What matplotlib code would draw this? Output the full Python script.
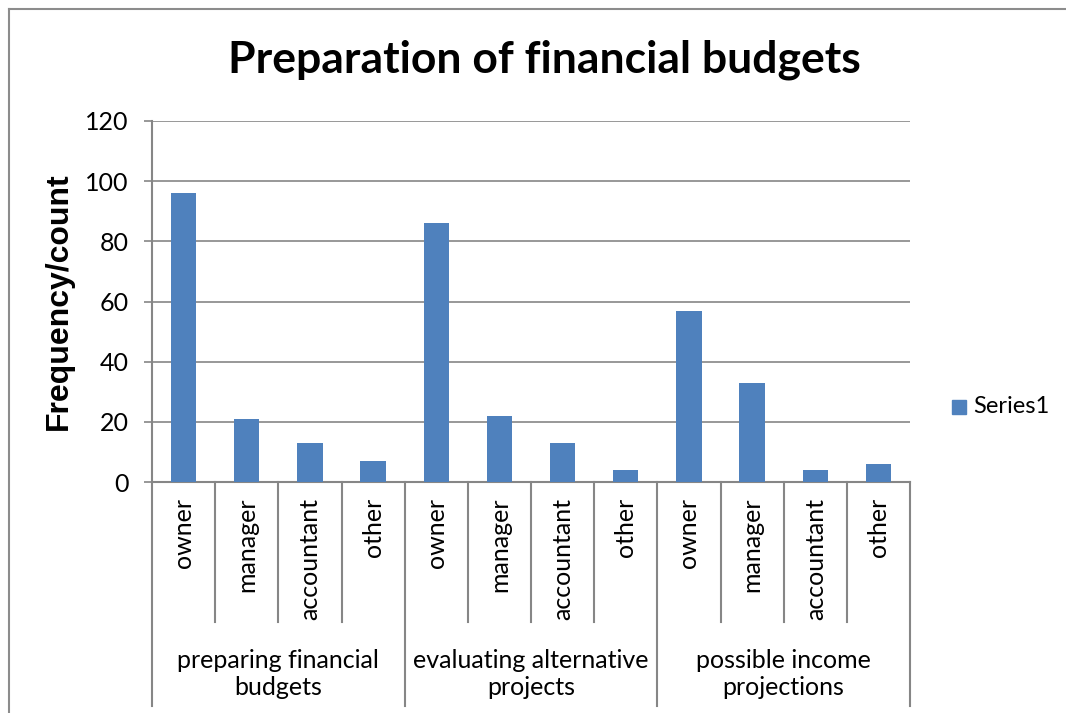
import matplotlib.pyplot as plt
from matplotlib.patches import Rectangle

# survey counts: who prepares each kind of budget
groups = ["preparing financial\nbudgets", "evaluating alternative\nprojects", "possible income\nprojections"]
roles = ["owner", "manager", "accountant", "other"]
series1 = [96, 21, 13, 7, 86, 22, 13, 4, 57, 33, 4, 6]
yticks = [0, 20, 40, 60, 80, 100, 120]

BAR = "#4F81BD"
GRID = "#868686"
FONT = "Lato"
FS = 18

W, H = 1066, 713
fig = plt.figure(figsize=(W / 100, H / 100), dpi=100)

# outer chart frame (top and left edges show)
fig.add_artist(plt.Line2D([9 / W, 9 / W], [0, 1 - 9 / H], color="#8c8c8c", lw=1.5))
fig.add_artist(plt.Line2D([9 / W, 1], [1 - 9 / H, 1 - 9 / H], color="#8c8c8c", lw=1.5))

x0, x1, ytop, ybot = 152, 910, 121, 482
ax = fig.add_axes([x0 / W, 1 - ybot / H, (x1 - x0) / W, (ybot - ytop) / H])

n = len(series1)
xs = list(range(n))
ax.bar(xs, series1, width=0.4, color=BAR, zorder=3)
ax.set_xlim(-0.5, n - 0.5)
ax.set_ylim(0, 120)

ax.set_yticks(yticks)
ax.set_yticklabels([str(v) for v in yticks], fontsize=FS, family=FONT)
ax.yaxis.grid(True, color=GRID, lw=1.2)
ax.set_axisbelow(True)
ax.tick_params(axis="y", length=6, width=1.2, color=GRID, pad=11)
ax.set_xticks([])
for s in ["top", "right"]:
    ax.spines[s].set_visible(False)
for s in ["left", "bottom"]:
    ax.spines[s].set_color(GRID)
    ax.spines[s].set_linewidth(1.5)

# hierarchical category axis drawn below the plot
ah = ybot - ytop
inner = -(622 - ybot) / ah
outer = -(706 - ybot) / ah
tr = ax.get_xaxis_transform()
for i in range(n + 1):
    b = i - 0.5
    depth = outer if i % 4 == 0 else inner
    ax.plot([b, b], [0, depth], color=GRID, lw=1.5, transform=tr, clip_on=False)

for i in xs:
    ax.text(i, -(498 - ybot) / ah, roles[i % 4], rotation=90, ha="center", va="top",
            fontsize=FS, family=FONT, transform=tr)

for g, name in enumerate(groups):
    ax.text(4 * g + 1.5, -(674 - ybot) / ah, name, ha="center", va="center",
            fontsize=FS, family=FONT, linespacing=1.2, transform=tr)

ax.set_ylabel("Frequency/count", fontsize=23, fontweight="bold",
              family="Liberation Sans")
ax.yaxis.set_label_coords(-(152 - 74) / (x1 - x0), 0.5)

fig.text(544 / W, 1 - 60 / H, "Preparation of financial budgets", ha="center", va="center",
         fontsize=32, fontweight="bold", family=FONT)

# legend
fig.add_artist(Rectangle((952 / W, 1 - 414 / H), 14 / W, 14 / H, color=BAR, transform=fig.transFigure))
fig.text(973 / W, 1 - 407 / H, "Series1", ha="left", va="center", fontsize=17, family=FONT)

fig.savefig("out.png", dpi=100)
